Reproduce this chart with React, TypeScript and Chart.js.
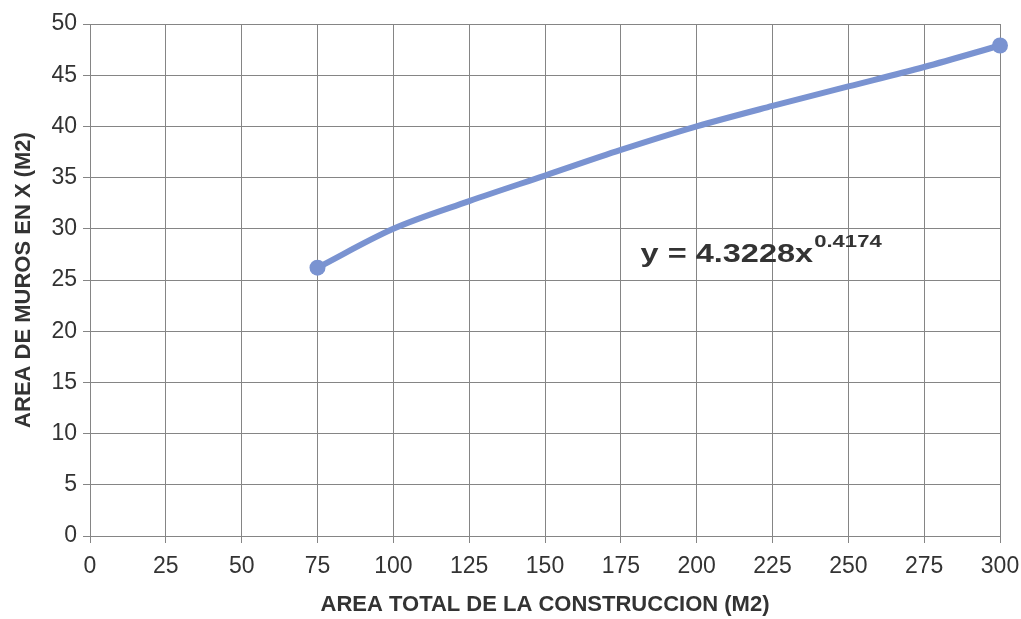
import React, { useEffect, useRef } from "react";
import { Chart, registerables } from "chart.js";

Chart.register(...registerables);

const areaTotal = [75, 100, 125, 150, 175, 200, 225, 250, 275, 300];
const areaMuros = [26.2, 30.0, 32.7, 35.2, 37.7, 40.0, 42.0, 43.9, 45.8, 47.9];
const xTitle = "AREA TOTAL DE LA CONSTRUCCION (M2)";
const yTitle = "AREA DE MUROS EN X (M2)";
const eqMain = "y = 4.3228x";
const eqExp = "0.4174";
const eqAnchor = { x: 181.5, y: 26.8 };

const FONT = "'Liberation Sans', Arial, sans-serif";

const equationPlugin = {
  id: "equation",
  afterDatasetsDraw(chart: any) {
    const { ctx, scales } = chart;
    const px = scales.x.getPixelForValue(eqAnchor.x);
    const py = scales.y.getPixelForValue(eqAnchor.y);
    ctx.save();
    ctx.fillStyle = "#333333";
    ctx.textBaseline = "alphabetic";
    ctx.textAlign = "left";
    const sx = 1.3;
    ctx.font = `bold 25px ${FONT}`;
    const w = ctx.measureText(eqMain).width * sx;
    ctx.translate(px, py);
    ctx.scale(sx, 1);
    ctx.fillText(eqMain, 0, 0);
    ctx.setTransform(1, 0, 0, 1, 0, 0);
    ctx.translate(px + w + 1, py - 15);
    ctx.scale(1.3, 1);
    ctx.font = `bold 17px ${FONT}`;
    ctx.fillText(eqExp, 0, 0);
    ctx.restore();
  },
};

export default function App() {
  const ref = useRef<HTMLCanvasElement>(null);
  useEffect(() => {
    if (!ref.current) return;
    const last = areaTotal.length - 1;
    const chart = new Chart(ref.current, {
      type: "scatter",
      data: {
        datasets: [
          {
            data: areaTotal.map((x, i) => ({ x, y: areaMuros[i] })),
            showLine: true,
            borderColor: "#7a93d1",
            backgroundColor: "#7a93d1",
            borderWidth: 6,
            pointRadius: (c: any) => (c.dataIndex === 0 || c.dataIndex === last ? 8 : 0),
            pointBorderWidth: 0,
            cubicInterpolationMode: "monotone",
            clip: false,
          },
        ],
      },
      options: {
        animation: false,
        responsive: true,
        maintainAspectRatio: false,
        layout: { padding: { top: 24, right: 0, left: 0, bottom: 0 } },
        plugins: { legend: { display: false }, tooltip: { enabled: false } },
        scales: {
          x: {
            type: "linear",
            min: 0,
            max: 300,
            ticks: { stepSize: 25, color: "#333", font: { family: FONT, size: 23 }, padding: 10, maxRotation: 0 },
            grid: { color: "#858585", lineWidth: 1, tickLength: 7 },
            border: { color: "#858585" },
            title: {
              display: true,
              text: xTitle,
              color: "#333",
              font: { family: FONT, size: 22, weight: "bold" },
              padding: { top: 0, bottom: 1 },
            },
            afterFit: (s: any) => {
              s.height = 83;
              s.paddingRight = 21;
            },
          },
          y: {
            type: "linear",
            min: 0,
            max: 50,
            ticks: { stepSize: 5, color: "#333", font: { family: FONT, size: 23 }, padding: 6 },
            grid: { color: "#858585", lineWidth: 1, tickLength: 7 },
            border: { color: "#858585" },
            title: {
              display: true,
              text: yTitle,
              color: "#333",
              font: { family: FONT, size: 22, weight: "bold" },
              padding: { top: 11, bottom: 0 },
            },
            afterFit: (s: any) => {
              s.width = 90;
            },
          },
        },
      },
      plugins: [equationPlugin],
    });
    return () => chart.destroy();
  }, []);
  return (
    <div style={{ position: "absolute", left: 0, top: 0, width: 1021, height: 619, background: "#fff" }}>
      <canvas ref={ref} />
    </div>
  );
}
